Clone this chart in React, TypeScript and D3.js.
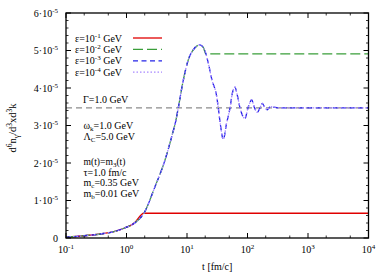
import * as d3 from "d3";
import React from "react";

// values are in units of 1e-5
const riseT = [0.1, 0.2, 0.42, 0.62, 0.91, 1.33, 1.94];
const riseV = [0.02, 0.06, 0.12, 0.17, 0.26, 0.39, 0.66];
const upT = [2.96, 4.33, 5.58, 6.58, 7.18, 8.69, 10.5, 12.6, 16.4, 18.6];
const upV = [1.37, 2.08, 2.7, 3.15, 3.47, 4.21, 4.75, 5.01, 5.15, 5.08];
const redTailT = [10000];
const redTailV = [0.66];
const greenTailT = [20.6, 10000];
const greenTailV = [4.91, 4.91];
const oscT = [20.6, 22.5, 25.9, 31.0, 32.9, 35.8, 39.8, 45, 51.4, 56, 62.1, 68, 75.2, 90.9, 102, 117, 131, 145, 161, 176, 194, 214, 236, 344, 10000];
const oscV = [4.91, 4.66, 4.21, 3.77, 3.47, 3.0, 2.63, 3.05, 3.47, 3.85, 4.02, 3.8, 3.47, 3.19, 3.47, 3.68, 3.47, 3.35, 3.47, 3.59, 3.47, 3.42, 3.5, 3.47, 3.47];
const gammaLevel = 3.47;

const yTicks = [0, 1, 2, 3, 4, 5, 6];
const xTickExp = [-1, 0, 1, 2, 3, 4];
const xMinorMult = [2, 5];

const legendLabels = ["-1", "-2", "-3", "-4"];
const legendColors = ["#e00000", "#3a9e3a", "#2424e8", "#a888ff"];
const legendDash = ["none", "10,4", "5,3.5", "1.5,2"];

const W = 389;
const H = 273;
const left = 66;
const right = 368.5;
const top = 13;
const bottom = 238;

const zip = (t: number[], v: number[]) => t.map((d, i) => [d, v[i]] as [number, number]);

const App = () => {
  const x = d3.scaleLog().domain([0.1, 10000]).range([left, right]);
  const y = d3.scaleLinear().domain([0, 6]).range([bottom, top]);
  const line = d3
    .line<[number, number]>()
    .x((d) => x(d[0]))
    .y((d) => y(d[1]))
    .curve(d3.curveMonotoneX);

  const red = [...zip(riseT, riseV), ...zip(redTailT, redTailV)];
  const green = [...zip(riseT, riseV), ...zip(upT, upV), ...zip(greenTailT, greenTailV)];
  const osc = [...zip(riseT, riseV), ...zip(upT, upV), ...zip(oscT, oscV)];
  const series = [red, green, osc, osc];

  const minorY: number[] = [];
  for (let v = 0; v < 6; v += 0.2) if (Math.abs(v - Math.round(v)) > 0.01) minorY.push(v);
  const minorX: number[] = [];
  xTickExp.slice(0, -1).forEach((e) => xMinorMult.forEach((m) => minorX.push(m * Math.pow(10, e))));

  const font = "'Liberation Serif', 'DejaVu Serif', serif";
  const texts = [
    { main: "ω", sub: "k", rest: "=1.0 GeV", yy: 129 },
    { main: "Λ", sub: "C", rest: "=5.0 GeV", yy: 139.5 },
    { main: "m(t)=m", sub: "3", rest: "(t)", yy: 164.5 },
    { main: "τ=1.0 fm/c", sub: "", rest: "", yy: 176 },
    { main: "m", sub: "c", rest: "=0.35 GeV", yy: 186 },
    { main: "m", sub: "b", rest: "=0.01 GeV", yy: 196.5 },
  ];

  return (
    <svg width={W} height={H} style={{ position: "absolute", left: 0, top: 0, background: "#fff" }} fontFamily={font}>
      <rect x={0} y={0} width={W} height={H} fill="#fff" />
      {/* gamma line */}
      <line x1={left} x2={right} y1={y(gammaLevel)} y2={y(gammaLevel)} stroke="#8c8c8c" strokeWidth={1.3} strokeDasharray="6,4" />
      {series.map((s, i) => (
        <path key={i} d={line(s) || ""} fill="none" stroke={legendColors[i]} strokeWidth={1.3}
          strokeDasharray={legendDash[i] === "none" ? undefined : legendDash[i]} />
      ))}
      {/* frame */}
      <rect x={left} y={top} width={right - left} height={bottom - top} fill="none" stroke="#000" strokeWidth={1.3} />
      {yTicks.map((v) => (
        <g key={"y" + v}>
          <line x1={left} x2={left + 5} y1={y(v)} y2={y(v)} stroke="#000" />
          <line x1={right} x2={right - 5} y1={y(v)} y2={y(v)} stroke="#000" />
          <text x={58} y={y(v) + 3.5} fontSize={10} textAnchor="end">
            {v === 0 ? "0" : (
              <>
                <tspan>{v + "·10"}</tspan>
                <tspan dy={-4} fontSize={7}>-5</tspan>
              </>
            )}
          </text>
        </g>
      ))}
      {minorY.map((v) => (
        <g key={"my" + v}>
          <line x1={left} x2={left + 2.5} y1={y(v)} y2={y(v)} stroke="#000" strokeWidth={0.8} />
          <line x1={right} x2={right - 2.5} y1={y(v)} y2={y(v)} stroke="#000" strokeWidth={0.8} />
        </g>
      ))}
      {xTickExp.map((e) => {
        const px = x(Math.pow(10, e));
        return (
          <g key={"x" + e}>
            <line x1={px} x2={px} y1={bottom} y2={bottom - 5} stroke="#000" />
            <line x1={px} x2={px} y1={top} y2={top + 5} stroke="#000" />
            <text x={px} y={253} fontSize={10} textAnchor="middle">
              <tspan>10</tspan>
              <tspan dy={-4} fontSize={7}>{String(e)}</tspan>
            </text>
          </g>
        );
      })}
      {minorX.map((v) => (
        <g key={"mx" + v}>
          <line x1={x(v)} x2={x(v)} y1={bottom} y2={bottom - 2.5} stroke="#000" strokeWidth={0.8} />
          <line x1={x(v)} x2={x(v)} y1={top} y2={top + 2.5} stroke="#000" strokeWidth={0.8} />
        </g>
      ))}
      <text x={(left + right) / 2} y={270} fontSize={10} textAnchor="middle">t [fm/c]</text>
      <text transform="translate(16,128) rotate(-90)" fontSize={10.5} textAnchor="middle">
        <tspan>d</tspan>
        <tspan dy={-4} fontSize={7.5}>6</tspan>
        <tspan dy={4}>n</tspan>
        <tspan dy={2.5} fontSize={7.5}>γ</tspan>
        <tspan dy={-2.5}>/d</tspan>
        <tspan dy={-4} fontSize={7.5}>3</tspan>
        <tspan dy={4}>xd</tspan>
        <tspan dy={-4} fontSize={7.5}>3</tspan>
        <tspan dy={4}>k</tspan>
      </text>
      {/* legend */}
      {legendLabels.map((l, i) => {
        const yy = 41.5 + i * 11.4;
        return (
          <g key={"l" + i}>
            <text x={75} y={yy} fontSize={10}>
              <tspan>ε=10</tspan>
              <tspan dy={-4} fontSize={7}>{l}</tspan>
              <tspan dy={4}> GeV</tspan>
            </text>
            <line x1={133} x2={162} y1={yy - 3.5} y2={yy - 3.5} stroke={legendColors[i]} strokeWidth={1.3}
              strokeDasharray={legendDash[i] === "none" ? undefined : legendDash[i]} />
          </g>
        );
      })}
      <text x={83} y={102.5} fontSize={10}>Γ=1.0 GeV</text>
      {texts.map((t, i) => (
        <text key={"t" + i} x={83.5} y={t.yy} fontSize={t.sub === "3" ? 9.6 : 10}>
          <tspan>{t.main}</tspan>
          {t.sub && <tspan dy={2} fontSize={7}>{t.sub}</tspan>}
          {t.rest && <tspan dy={t.sub ? -2 : 0}>{t.rest}</tspan>}
        </text>
      ))}
    </svg>
  );
};

export default App;
